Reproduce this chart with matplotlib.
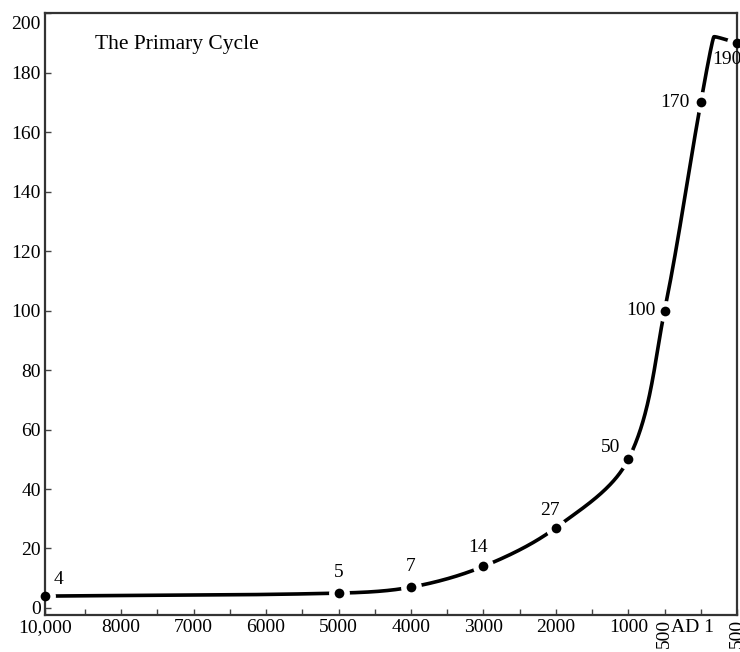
#!/usr/bin/env python
# -*- coding: utf-8 -*-
import numpy as np
import matplotlib
matplotlib.use('Agg')
import matplotlib.pyplot as plt
from matplotlib.transforms import ScaledTranslation

plt.rcParams['font.family'] = ['Liberation Serif', 'DejaVu Serif']

# population (millions) at dated points, years BC negative
years = [-10000, -5000, -4000, -3000, -2000, -1000, -500, 0, 500]
values = [4, 5, 7, 14, 27, 50, 100, 170, 190]
point_labels = ['4', '5', '7', '14', '27', '50', '100', '170', '190']

# turning point of the cycle, drawn on the line only
peak_year = 180
peak_value = 192

tick_years = [-10000, -8000, -7000, -6000, -5000, -4000, -3000, -2000,
              -1000, -500, 0, 500]
tick_labels = ['10,000', '8000', '7000', '6000', '5000', '4000', '3000',
               '2000', '1000', '500', 'AD 1', '500']
minor_years = list(range(-8500, 500, 500))

# label offsets in pixels (dx, dy) and alignment
label_style = [
    (13, 17, 'center'), (0, 21, 'center'), (0, 21, 'center'),
    (-5, 19, 'center'), (-6, 17, 'center'), (-18, 12, 'center'),
    (-9, 0, 'right'), (-11, 0, 'right'), (-25, -17, 'left'),
]


def fwd(x):
    # the first millennium before 9000 BC is squeezed together
    x = np.asarray(x, dtype=float)
    return np.where(x < -9000, -9000 + (x + 9000) * 0.05, x)


def inv(p):
    p = np.asarray(p, dtype=float)
    return np.where(p < -9000, -9000 + (p + 9000) / 0.05, p)


def spline(pts, tension, n=80):
    # Hermite pieces through display points; tangent direction from the
    # neighbours, length from the piece's own chord
    pts = np.asarray(pts, float)
    d = np.zeros_like(pts)
    d[0] = pts[1] - pts[0]
    d[-1] = pts[-1] - pts[-2]
    d[1:-1] = pts[2:] - pts[:-2]
    d /= np.linalg.norm(d, axis=1)[:, None]
    t = np.linspace(0, 1, n)[:, None]
    h00 = 2 * t**3 - 3 * t**2 + 1
    h10 = t**3 - 2 * t**2 + t
    h01 = -2 * t**3 + 3 * t**2
    h11 = t**3 - t**2
    out = []
    for k in range(len(pts) - 1):
        c = np.linalg.norm(pts[k + 1] - pts[k])
        out.append(h00 * pts[k] + h10 * d[k] * c * tension[k] +
                   h01 * pts[k + 1] + h11 * d[k + 1] * c * tension[k + 1])
    return np.vstack(out)


fig = plt.figure(figsize=(7.4, 6.52), dpi=100)
ax = fig.add_axes([0.061, 0.057, 0.935, 0.923])
ax.set_xscale('function', functions=(fwd, inv))
ax.set_xlim(-10000, 500)
ax.set_ylim(-2.3, 200)

# curve through the points, smoothed in screen space
cx = years[:-1] + [peak_year] + years[-1:]
cy = values[:-1] + [peak_value] + values[-1:]
disp = ax.transData.transform(np.column_stack([cx, cy]))
tension = np.ones(len(cx))
tension[-2] = 0.15
curve = ax.transData.inverted().transform(spline(disp, tension))
ax.plot(curve[:, 0], curve[:, 1], color='black', lw=2.6,
        solid_capstyle='butt', zorder=2)
ax.plot(years, values, 'o', color='white', ms=15, mec='none', zorder=2.2)
ax.plot(years, values, 'o', color='black', ms=7, mec='none', zorder=3,
        clip_on=False)

for (x, y, s), (dx, dy, ha) in zip(zip(years, values, point_labels),
                                   label_style):
    ax.annotate(s, (x, y), xytext=(dx * 0.72, dy * 0.72),
                textcoords='offset points', ha=ha, va='center',
                fontsize=14, annotation_clip=False)

ax.text(0.072, 0.947, 'The Primary Cycle', transform=ax.transAxes,
        fontsize=15.5, ha='left', va='center')

ax.set_yticks(range(0, 201, 20))
ax.set_xticks(tick_years)
ax.set_xticklabels(tick_labels)
ax.set_xticks(minor_years, minor=True)
ax.tick_params(axis='both', which='both', direction='in', length=4,
               width=1, color='#444444', labelsize=14)
ax.tick_params(axis='x', which='minor', labelbottom=False)
ax.tick_params(axis='x', pad=3)
ax.tick_params(axis='y', pad=3)

for i, lab in enumerate(ax.get_xticklabels()):
    if tick_labels[i] == '500':
        lab.set_rotation(90)
        lab.set_va('top')
    elif tick_labels[i] == 'AD 1':
        lab.set_transform(lab.get_transform() +
                          ScaledTranslation(-0.08, 0, fig.dpi_scale_trans))
for lab in ax.get_yticklabels():
    if lab.get_text() == '200':
        lab.set_transform(lab.get_transform() +
                          ScaledTranslation(0, -0.09, fig.dpi_scale_trans))

for sp in ax.spines.values():
    sp.set_linewidth(1.6)
    sp.set_color('#333333')

fig.savefig('out.png', dpi=100)
